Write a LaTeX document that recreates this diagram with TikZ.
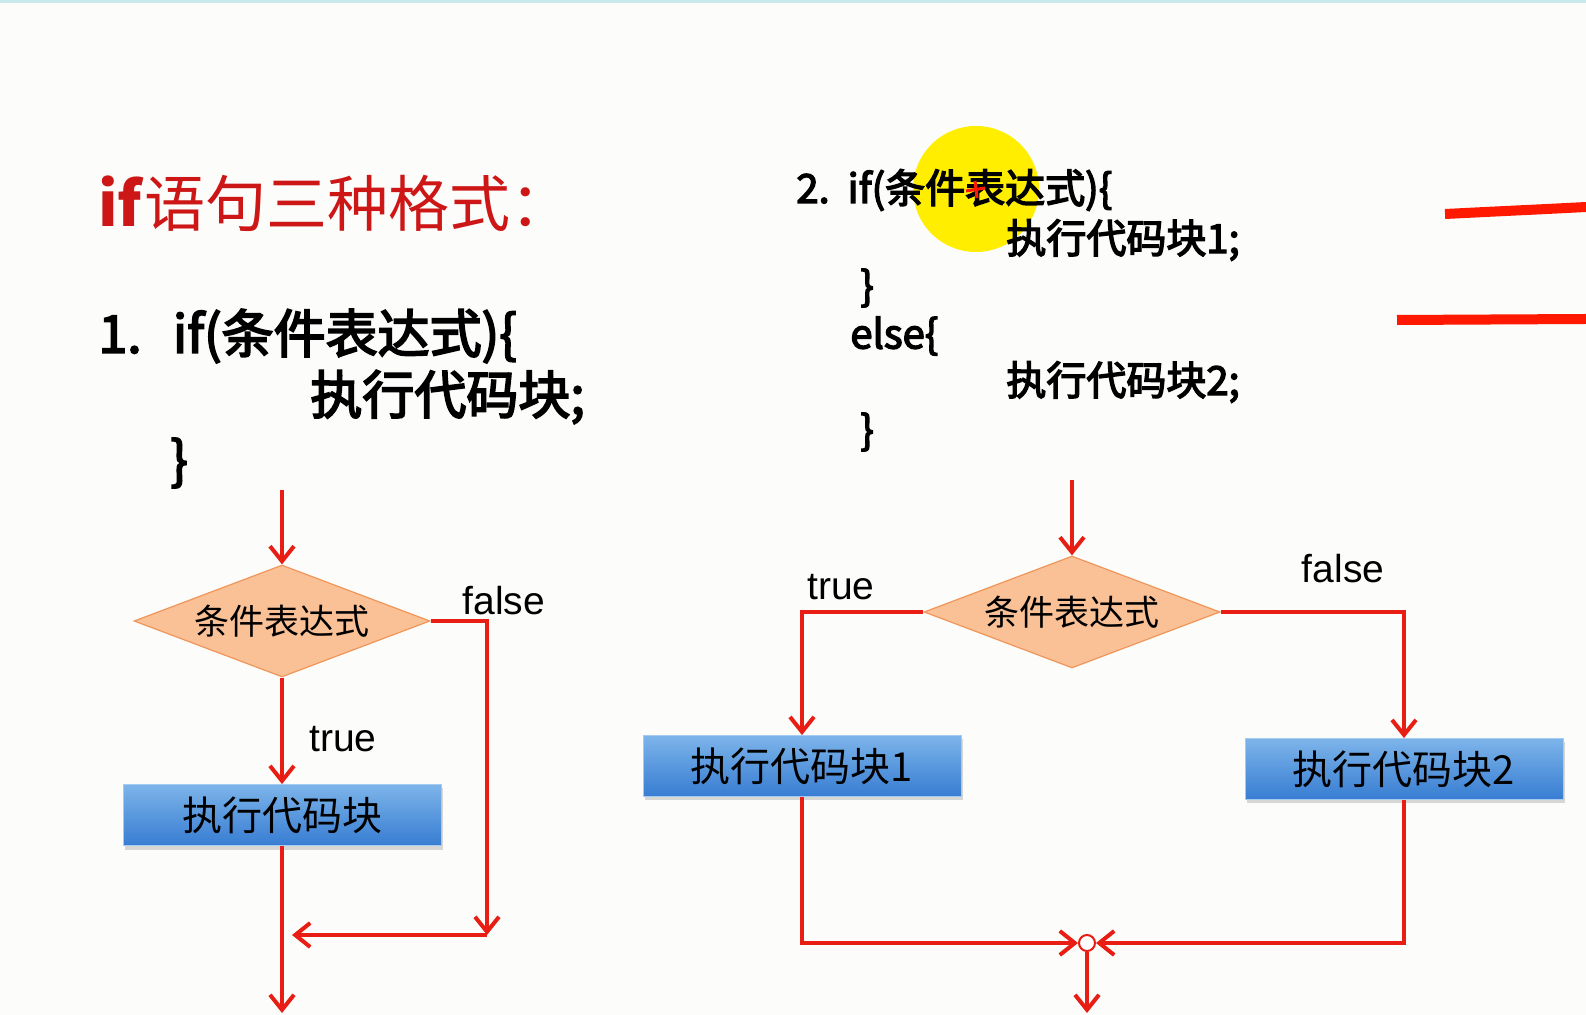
\documentclass[tikz,border=0pt]{standalone}
\usepackage{fontspec}
\setmainfont{Noto Sans CJK SC}
\newfontfamily\latinfont{Liberation Sans}
\newfontfamily\codefont[FakeBold=3.5]{Noto Sans CJK SC}
\usetikzlibrary{arrows.meta,shapes.geometric,shadows}
\definecolor{flowred}{RGB}{232,30,20}
\definecolor{penred}{RGB}{255,25,0}
\definecolor{condfill}{RGB}{250,192,150}
\definecolor{condline}{RGB}{240,150,90}
\definecolor{blktop}{RGB}{125,180,234}
\definecolor{blkbot}{RGB}{55,125,210}
\definecolor{titlered}{RGB}{205,22,22}
\definecolor{hilite}{RGB}{255,238,0}
\definecolor{edge}{RGB}{200,232,236}
\definecolor{paper}{RGB}{252,253,251}

\begin{document}
\begin{tikzpicture}[
    x=0.5pt, y=-0.5pt,
    >={Straight Barb[length=7.5pt,width=12pt]},
    flow/.style={->, line width=2pt, flowred},
    cond/.style={diamond, shape aspect=2.64, inner sep=0pt,
        minimum width=148pt, minimum height=56pt,
        fill=condfill, draw=condline, line width=0.6pt,
        font=\fontsize{17.5}{20}\selectfont},
    blk/.style={rectangle, inner sep=0pt,
        minimum width=159pt, minimum height=30.5pt,
        top color=blktop, bottom color=blkbot,
        draw=blktop!70!white, line width=0.4pt,
        drop shadow={shadow xshift=1pt, shadow yshift=-2pt, opacity=0.3},
        font=\fontsize{20}{24}\selectfont},
    joint/.style={circle, draw=flowred, fill=white, line width=1pt,
        minimum size=8pt, inner sep=0pt},
    lbl/.style={inner sep=0pt, font=\latinfont\fontsize{19.5}{22}\selectfont},
    code/.style={anchor=west, inner sep=0pt,
        font=\codefont\fontsize{26}{30}\selectfont},
    codesm/.style={code, font=\codefont\fontsize{20}{24}\selectfont},
    pen/.style={line width=5pt, penred}
]

% Fond
\useasboundingbox (0,0) rectangle (1586,1015);
\fill[paper] (0,0) rectangle (1586,1015);
\fill[edge] (0,0) rectangle (1586,3);

% Marques de llapis
\fill[hilite] (976,189) circle (31.5pt);
\draw[pen] (1445,214) -- (1485,212) -- (1547,209) -- (1586,207);
\draw[pen] (1397,320) -- (1586,319);

% Titol
\node[
    anchor=west,
    inner sep=0pt,
    text=titlered,
    font=\fontsize{30.5}{36}\selectfont
] (title) at (98,203) {\textbf{if}语句三种格式：};

% Format 1
\node[code] (c1a) at (98,336) {1.\hspace{0.6em}if(条件表达式)\{};
\node[code] (c1b) at (310,397) {执行代码块;};
\node[code] (c1c) at (170,463) {\}};

% Format 2
\node[codesm] (c2a) at (796,190) {2.\hspace{0.45em}if(条件表达式)\{};
\draw[penred, line width=1.5pt] (966,191) -- (985,188);
\draw[penred, line width=1.5pt] (975,181) -- (977,198);
\node[codesm] (c2b) at (1006,240) {执行代码块1;};
\node[codesm] (c2c) at (860,288) {\}};
\node[codesm] (c2d) at (850,336) {else\{};
\node[codesm] (c2e) at (1006,382) {执行代码块2;};
\node[codesm] (c2f) at (860,432) {\}};

% Diagrama 1
\coordinate (inL) at (282,490);
\node[cond] (dia1) at (282,621) {条件表达式};
\node[blk] (blk0) at (282,815) {执行代码块};
\coordinate (fR) at (487,621);
\coordinate (fB) at (487,935);
\coordinate (mL) at (292,935);
\coordinate (outL) at (282,1013);

\draw[flow] (inL) -- (dia1.north);
\draw[flow] (dia1.south) -- (blk0.north);
\draw[flow] (dia1.east) -- (fR) -- (fB);
\draw[flow] (fB) -- (mL);
\draw[flow] (blk0.south) -- (outL);

\node[lbl] (t1) at (343,739) {true};
\node[lbl] (f1) at (504,601) {false};

% Diagrama 2
\coordinate (inR) at (1072,480);
\node[cond] (dia2) at (1072,612) {条件表达式};
\node[blk] (blk1) at (802,766) {执行代码块1};
\node[blk] (blk2) at (1404,769) {执行代码块2};
\node[joint] (jn) at (1087,943) {};
\coordinate (tC) at (802,612);
\coordinate (fC) at (1404,612);
\coordinate (j1) at (802,943);
\coordinate (j2) at (1404,943);
\coordinate (outR) at (1087,1013);

\draw[flow] (inR) -- (dia2.north);
\draw[flow] (dia2.west) -- (tC) -- (blk1.north);
\draw[flow] (dia2.east) -- (fC) -- (blk2.north);
\draw[flow] (blk1.south) -- (j1) -- (jn.west);
\draw[flow] (blk2.south) -- (j2) -- (jn.east);
\draw[flow] (jn.south) -- (outR);

\node[lbl] (t2) at (841,587) {true};
\node[lbl] (f2) at (1343,569) {false};

\end{tikzpicture}
\end{document}
